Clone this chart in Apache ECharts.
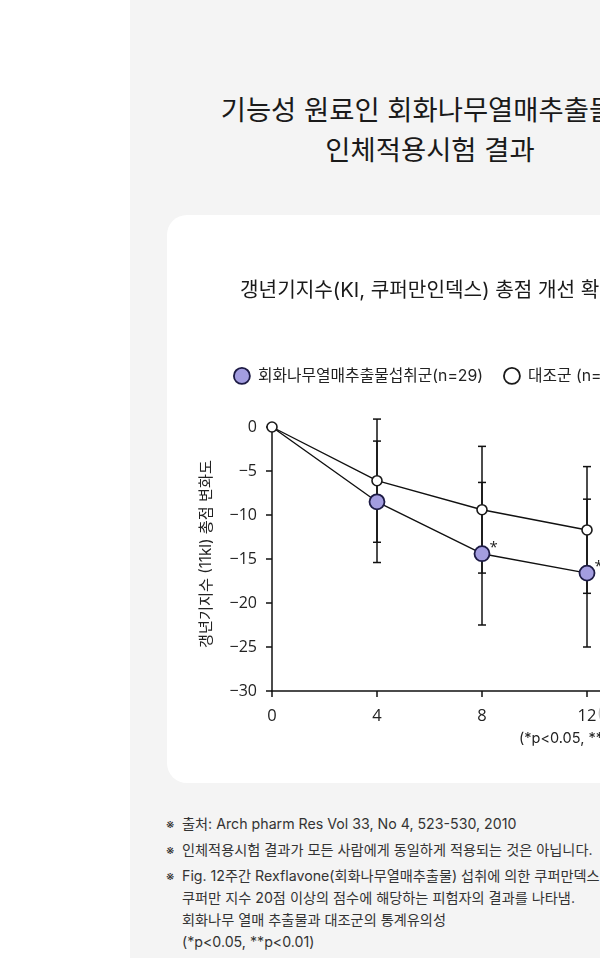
<!DOCTYPE html>
<html><head><meta charset="utf-8">
<script src="https://cdn.jsdelivr.net/npm/echarts@6/dist/echarts.min.js"></script>
<style>
html,body{margin:0;padding:0;width:600px;height:958px;overflow:hidden;background:#fff;font-family:"Inter","Noto Sans CJK KR","Noto Sans",sans-serif;}
#panel{position:absolute;left:130px;top:0;width:600px;height:958px;background:#f4f4f4;}
#title{position:absolute;left:130px;top:91px;width:600px;text-align:center;font-size:27.4px;line-height:39.5px;color:#1a1a1a;white-space:nowrap;}
#card{position:absolute;left:167px;top:215px;width:526px;height:568px;background:#fff;border-radius:20px;}
#chart{position:absolute;left:167px;top:215px;width:526px;height:568px;}
#notes{position:absolute;left:182px;top:813px;width:600px;font-size:14.2px;line-height:22px;color:#333;white-space:nowrap;}
#notes p{margin:0 0 4px 0;position:relative;}
#notes p span.m{position:absolute;left:-16px;top:0;font-size:13px;}
</style></head>
<body>
<div id="panel"></div>
<div id="title">기능성 원료인 회화나무열매추출물의<br>인체적용시험 결과</div>
<div id="card"></div>
<div id="chart"></div>
<div id="notes">
<p><span class="m">※</span>출처: Arch pharm Res Vol 33, No 4, 523-530, 2010</p>
<p><span class="m">※</span>인체적용시험 결과가 모든 사람에게 동일하게 적용되는 것은 아닙니다.</p>
<p><span class="m">※</span>Fig. 12주간 Rexflavone(회화나무열매추출물) 섭취에 의한 쿠퍼만덱스 총점 변화<br>쿠퍼만 지수 20점 이상의 점수에 해당하는 피험자의 결과를 나타냄.<br>회화나무 열매 추출물과 대조군의 통계유의성<br>(*p&lt;0.05, **p&lt;0.01)</p>
</div>
<script>
const weeks = [0, 4, 8, 12];
const treatName = '회화나무열매추출물섭취군(n=29)';
const ctrlName = '대조군 (n=30)';
const treatMean = [0, -8.5, -14.4, -16.6];
const treatSD = [0, 6.9, 8.1, 8.4];
const ctrlMean = [0, -6.1, -9.4, -11.7];
const ctrlSD = [0, 7.0, 7.2, 7.2];
const treatSig = ['', '', '*', '**'];
const yTicks = [0, -5, -10, -15, -20, -25, -30];
const xTicks = [0, 4, 8, 12];

const FONT_KR = '"Inter","Noto Sans CJK KR","Noto Sans",sans-serif';
const FONT_NUM = '"Open Sans","Noto Sans",sans-serif';
const PURPLE = '#a39de0';
const NAVY = '#1d1b45';

const treatData = weeks.map((w, i) => {
  const item = { value: [w, treatMean[i]] };
  if (i === 0) item.symbol = 'none';
  if (treatSig[i]) item.label = { show: true, formatter: treatSig[i] };
  return item;
});
const ctrlData = weeks.map((w, i) => [w, ctrlMean[i]]);
const errData = [];
weeks.forEach((w, i) => {
  if (treatSD[i] > 0) errData.push([w, treatMean[i] - treatSD[i], treatMean[i] + treatSD[i]]);
  if (ctrlSD[i] > 0) errData.push([w, ctrlMean[i] - ctrlSD[i], ctrlMean[i] + ctrlSD[i]]);
});

const chart = echarts.init(document.getElementById('chart'), null, { renderer: 'canvas' });
chart.setOption({
  animation: false,
  title: {
    text: '갱년기지수(KI, 쿠퍼만인덱스) 총점 개선 확인',
    left: 68, top: 61,
    textStyle: { fontFamily: FONT_KR, fontSize: 20.2, fontWeight: 'normal', color: '#1a1a1a' }
  },
  legend: {
    left: 61, top: 147,
    icon: 'circle', itemWidth: 16, itemHeight: 16, itemGap: 20,
    textStyle: { fontFamily: FONT_KR, fontSize: 15.8, color: '#222', padding: [0, 0, 0, 3] },
    data: [
      { name: treatName, itemStyle: { color: PURPLE, borderColor: NAVY, borderWidth: 1.8 } },
      { name: ctrlName, itemStyle: { color: '#fff', borderColor: '#1a1a1a', borderWidth: 1.8 } }
    ]
  },
  grid: { left: 105, top: 212, width: 367.5, height: 264, containLabel: false },
  xAxis: {
    type: 'value', min: 0, max: 14, interval: 4,
    axisLine: { show: true, onZero: false, lineStyle: { color: '#111', width: 1.5 } },
    axisTick: { show: true, length: 6, lineStyle: { color: '#111', width: 1.5 } },
    axisLabel: { margin: 17, fontFamily: FONT_NUM, fontSize: 16.5, color: '#222', showMaxLabel: false,
      formatter: v => xTicks.indexOf(v) >= 0 ? String(v) : '' },
    splitLine: { show: false }
  },
  yAxis: {
    type: 'value', min: -30, max: 0, interval: 5,
    name: '갱년기지수 (11kl) 총점 변화도',
    nameLocation: 'middle', nameGap: 58,
    nameTextStyle: { fontFamily: FONT_KR, fontSize: 15.2, color: '#222', padding: [0, 0, 0, 10] },
    axisLine: { show: true, lineStyle: { color: '#111', width: 1.5 } },
    axisTick: { show: true, length: 6, lineStyle: { color: '#111', width: 1.5 } },
    axisLabel: { margin: 15, fontFamily: FONT_NUM, fontSize: 16, color: '#222',
      formatter: v => yTicks.indexOf(v) >= 0 ? String(v).replace('-', '\u2212') : '' },
    splitLine: { show: false }
  },
  graphic: [
    { type: 'text', left: 352, top: 516, style: { text: '(*p<0.05, **p<0.01)', fontFamily: FONT_KR, fontSize: 14.5, fill: '#222' } },
    { type: 'text', left: 430, top: 491, style: { text: '(주)', fontFamily: FONT_KR, fontSize: 15, fill: '#c8c8c8' } }
  ],
  series: [
    {
      type: 'custom', name: 'err', z: 1, silent: true,
      renderItem: (params, api) => {
        const x = api.value(0);
        const lo = api.coord([x, api.value(1)]);
        const hi = api.coord([x, api.value(2)]);
        const cap = 4;
        const st = { stroke: '#111', lineWidth: 1.5 };
        return { type: 'group', children: [
          { type: 'line', shape: { x1: lo[0], y1: lo[1], x2: hi[0], y2: hi[1] }, style: st },
          { type: 'line', shape: { x1: lo[0] - cap, y1: lo[1], x2: lo[0] + cap, y2: lo[1] }, style: st },
          { type: 'line', shape: { x1: hi[0] - cap, y1: hi[1], x2: hi[0] + cap, y2: hi[1] }, style: st }
        ]};
      },
      encode: { x: 0, y: [1, 2] },
      data: errData
    },
    {
      type: 'line', name: treatName, z: 3, data: treatData,
      symbol: 'circle', symbolSize: 15,
      lineStyle: { color: '#111', width: 1.4 },
      itemStyle: { color: PURPLE, borderColor: NAVY, borderWidth: 1.8 },
      label: { show: false, position: 'right', distance: 2, offset: [-3, -6], fontFamily: FONT_NUM, fontSize: 15, color: '#222' }
    },
    {
      type: 'line', name: ctrlName, z: 4, data: ctrlData,
      symbol: 'circle', symbolSize: 10,
      lineStyle: { color: '#111', width: 1.4 },
      itemStyle: { color: '#fff', borderColor: '#1a1a1a', borderWidth: 1.6 }
    }
  ]
});
</script>
</body></html>
